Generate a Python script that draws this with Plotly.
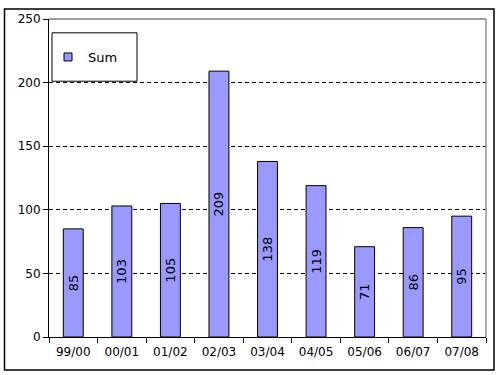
import plotly.graph_objects as go

categories = ["99/00", "00/01", "01/02", "02/03", "03/04", "04/05", "05/06", "06/07", "07/08"]
sums = [85, 103, 105, 209, 138, 119, 71, 86, 95]
series_name = "Sum"
y_ticks = [0, 50, 100, 150, 200, 250]

FONT = "Verdana, DejaVu Sans, sans-serif"
BAR_COLOR = "#9999FF"

fig = go.Figure()
fig.add_trace(go.Bar(
    x=categories, y=sums, name=series_name, showlegend=False,
    width=0.41,
    marker=dict(color=BAR_COLOR, line=dict(color="black", width=1)),
    texttemplate="%{y}", textposition="inside", textangle=-90,
    insidetextanchor="middle", constraintext="none",
    textfont=dict(family=FONT, size=13, color="black"),
))
# legend entry (small square swatch like the reference)
fig.add_trace(go.Scatter(
    x=[None], y=[None], mode="markers", name=series_name,
    marker=dict(symbol="square", size=8, color=BAR_COLOR,
                line=dict(color="black", width=1)),
))

L, R, T, B = 49, 14, 15, 38
W, H = 500, 375
pw, ph = W - L - R, H - T - B

def px_x(x):
    return (x - L) / pw

def px_y(y):
    return (H - B - y) / ph

shapes = [
    # gray top and right plot border
    dict(type="line", xref="paper", yref="paper", x0=0, x1=1, y0=1, y1=1,
         line=dict(color="#808080", width=1.3), layer="above"),
    dict(type="line", xref="paper", yref="paper", x0=1, x1=1, y0=0, y1=1,
         line=dict(color="#808080", width=1.3), layer="above"),
    # outer chart frame
    dict(type="rect", xref="paper", yref="paper",
         x0=px_x(4.5), x1=px_x(494), y0=px_y(370.5), y1=px_y(5),
         line=dict(color="black", width=1.5), fillcolor="rgba(0,0,0,0)"),
    # legend frame
    dict(type="rect", xref="paper", yref="paper",
         x0=px_x(52), x1=px_x(137), y0=px_y(78), y1=px_y(29),
         line=dict(color="black", width=1), fillcolor="white", layer="above"),
]

fig.update_layout(
    width=W, height=H,
    margin=dict(l=L, r=R, t=T, b=B, pad=0),
    paper_bgcolor="white", plot_bgcolor="white",
    font=dict(family=FONT, size=12, color="black"),
    bargap=0.59,
    showlegend=True,
    legend=dict(x=px_x(48), y=px_y(53.5), xanchor="left", yanchor="middle",
                bgcolor="rgba(0,0,0,0)", borderwidth=0,
                font=dict(family=FONT, size=13, color="black")),
    shapes=shapes,
    xaxis=dict(
        type="category", showline=True, linecolor="black", linewidth=1,
        ticks="outside", ticklen=5, tickcolor="black", tickson="boundaries",
        ticklabelstandoff=4,
        showgrid=False, tickfont=dict(family=FONT, size=12, color="black"),
        fixedrange=True,
    ),
    yaxis=dict(
        range=[0, 250], tickvals=y_ticks, showline=True, linecolor="black",
        linewidth=1, ticks="outside", ticklen=5, tickcolor="black",
        showgrid=True, gridcolor="black", gridwidth=1, griddash="4px,3px",
        zeroline=False, tickfont=dict(family=FONT, size=12, color="black"),
        fixedrange=True,
    ),
)

fig.write_html("out.html", config={"displayModeBar": False},
               post_script="document.body.style.margin='0';document.body.style.overflow='hidden';")
